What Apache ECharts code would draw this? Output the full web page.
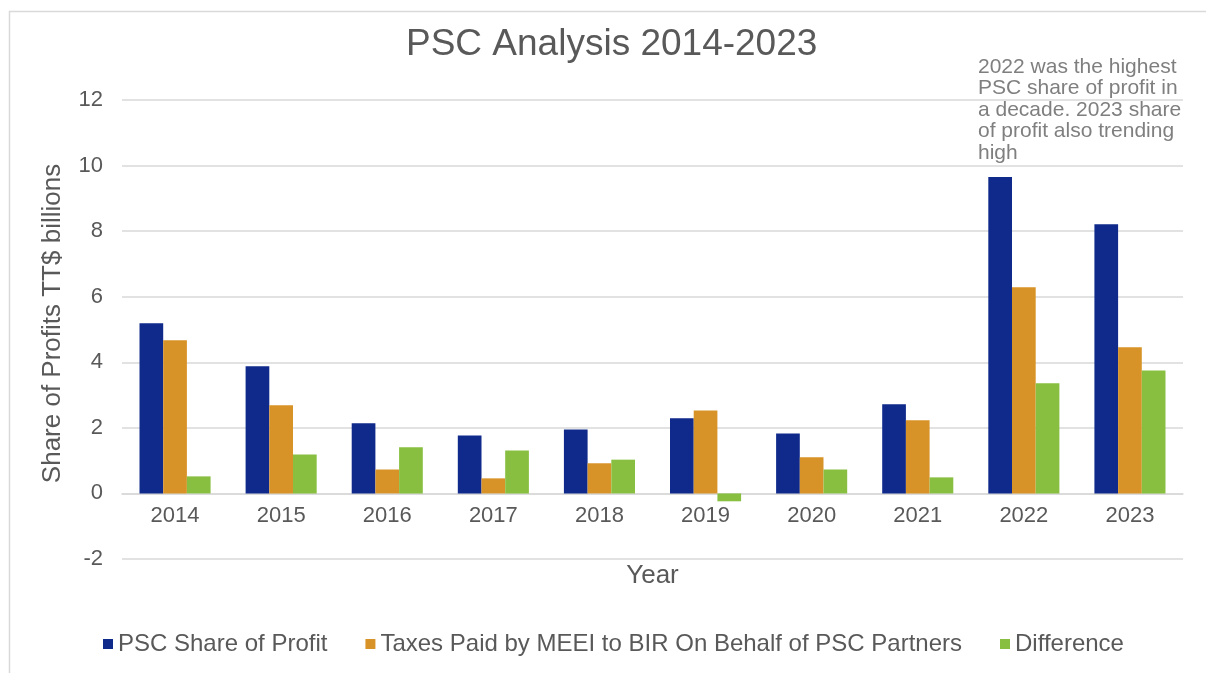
<!DOCTYPE html>
<html>
<head>
<meta charset="utf-8">
<script src="https://cdn.jsdelivr.net/npm/echarts@6/dist/echarts.min.js"></script>
<style>
  html, body { margin: 0; padding: 0; background: #fff; }
  #chart { width: 1206px; height: 673px; }
</style>
</head>
<body>
<div id="chart"></div>
<script>
const years = ['2014', '2015', '2016', '2017', '2018', '2019', '2020', '2021', '2022', '2023'];
const pscShare = [5.19, 3.88, 2.14, 1.77, 1.95, 2.29, 1.83, 2.72, 9.65, 8.21];
const taxesPaid = [4.67, 2.69, 0.73, 0.46, 0.92, 2.53, 1.10, 2.23, 6.29, 4.46];
const difference = [0.52, 1.19, 1.41, 1.31, 1.03, -0.24, 0.73, 0.49, 3.36, 3.75];
const yTicks = { min: -2, max: 12, step: 2 };

const font = 'Liberation Sans, Arial, Helvetica, sans-serif';
const grey = '#595959';

const chart = echarts.init(document.getElementById('chart'));

// the category axis sits on y = 0, one step above the bottom of the grid
const plotHeight = 673 - 100 - 114;
const zeroOffset = -plotHeight * (0 - yTicks.min) / (yTicks.max - yTicks.min);

chart.setOption({
  backgroundColor: '#fff',
  animation: false,
  title: {
    text: 'PSC Analysis 2014-2023',
    left: 401,
    top: 21,
    padding: 5,
    textStyle: { fontFamily: font, fontSize: 37, fontWeight: 'normal', color: grey }
  },
  legend: {
    left: 98,
    top: 627,
    itemWidth: 10,
    itemHeight: 10,
    itemGap: 38,
    icon: 'rect',
    textStyle: { fontFamily: font, fontSize: 24, color: grey },
    data: ['PSC Share of Profit', 'Taxes Paid by MEEI to BIR On Behalf of PSC Partners', 'Difference']
  },
  grid: { left: 122, right: 23, top: 100, bottom: 114 },
  xAxis: {
    type: 'category',
    data: years,
    offset: zeroOffset,
    name: 'Year',
    nameLocation: 'middle',
    nameGap: 69,
    nameTextStyle: { fontFamily: font, fontSize: 26, color: grey },
    axisLine: { onZero: false, lineStyle: { color: '#d9d9d9', width: 1.5 } },
    axisTick: { show: false },
    axisLabel: { fontFamily: font, fontSize: 22, color: grey, margin: 12 }
  },
  yAxis: {
    type: 'value',
    min: yTicks.min,
    max: yTicks.max,
    interval: yTicks.step,
    name: 'Share of Profits TT$ billions',
    nameLocation: 'middle',
    nameGap: 56,
    nameTextStyle: { fontFamily: font, fontSize: 26, color: grey, padding: [0, 0, 0, 12] },
    axisLine: { show: false },
    axisTick: { show: false },
    axisLabel: { fontFamily: font, fontSize: 22, color: grey, margin: 19 },
    splitLine: { lineStyle: { color: '#d9d9d9', width: 1.5 } }
  },
  series: [
    {
      name: 'PSC Share of Profit',
      type: 'bar',
      data: pscShare,
      barGap: 0,
      barCategoryGap: '33%',
      itemStyle: { color: '#0f2a8b' }
    },
    {
      name: 'Taxes Paid by MEEI to BIR On Behalf of PSC Partners',
      type: 'bar',
      data: taxesPaid,
      itemStyle: { color: '#d89328' }
    },
    {
      name: 'Difference',
      type: 'bar',
      data: difference,
      itemStyle: { color: '#88bf41' }
    }
  ],
  graphic: [
    {
      type: 'rect',
      left: 7,
      top: 9,
      shape: { width: 1220, height: 700 },
      style: { fill: 'none', stroke: '#d9d9d9', lineWidth: 1.5 },
      silent: true
    },
    {
      type: 'text',
      left: 978,
      top: 56,
      style: {
        text: '2022 was the highest\nPSC share of profit in\na decade. 2023 share\nof profit also trending\nhigh',
        font: '21px ' + font,
        lineHeight: 21.5,
        fill: '#7f7f7f'
      }
    }
  ]
});
</script>
</body>
</html>
